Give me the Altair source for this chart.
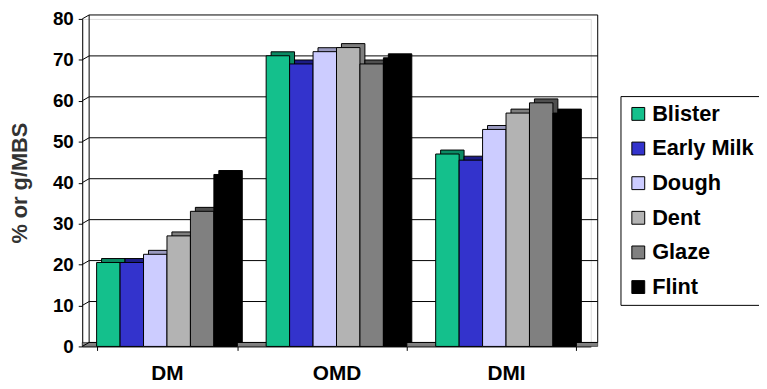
import altair as alt
import pandas as pd

categories = ["DM", "OMD", "DMI"]
stages = ["Blister", "Early Milk", "Dough", "Dent", "Glaze", "Flint"]
blister = [20.5, 71, 47]
early_milk = [20.5, 69, 45.5]
dough = [22.5, 72, 53]
dent = [27, 73, 57]
glaze = [33, 69, 59.5]
flint = [42, 70.5, 57]
y_ticks = [0, 10, 20, 30, 40, 50, 60, 70, 80]

face_colors = ["#14C08C", "#3333CC", "#CCCCFF", "#B3B3B3", "#808080", "#000000"]
cap_colors = ["#0B8A63", "#1C1C85", "#9A9AC0", "#7E7E7E", "#4F4F4F", "#000000"]

series = [blister, early_milk, dough, dent, glaze, flint]
rows = []
for s, vals, cap in zip(stages, series, cap_colors):
    for c, v in zip(categories, vals):
        rows.append({"cat": c, "stage": s, "value": v, "cap": cap})
df = pd.DataFrame(rows)
grid_df = pd.DataFrame({"value": y_ticks})
one = pd.DataFrame({"a": [0]})

W, H = 514, 331
DX, DY = 7, 4   # wall depth
BX, BY = 5, 4   # bar depth
FONT = "Liberation Sans"

y_scale = alt.Scale(domain=[0, 80], nice=False, zero=True)
y_axis = alt.Axis(values=y_ticks, grid=False, labelFont=FONT, labelFontSize=19,
                  labelFontWeight="bold", labelColor="black", tickColor="black",
                  tickSize=4, labelPadding=5, domainColor="black",
                  titleFont=FONT, titleFontSize=22, titleFontWeight="bold",
                  titleColor="#333333", titleX=-63, titleY=H / 2, titleAngle=270,
                  titleAlign="center", titleBaseline="middle")
y_enc = alt.Y("value:Q", scale=y_scale, title="% or g/MBS", axis=y_axis)

x_axis = alt.Axis(labelAngle=0, labelFont=FONT, labelFontSize=21, labelFontWeight="bold",
                  labelColor="black", tickBand="extent", tickSize=4, tickColor="black",
                  domainColor="black", labelPadding=12, title=None)
x_enc = alt.X("cat:N", sort=categories,
              scale=alt.Scale(paddingInner=0.17, paddingOuter=0.085), axis=x_axis)

floor = alt.Chart(one).mark_rect(fill="#808080", stroke="black", strokeWidth=0.5).encode(
    x=alt.value(0), x2=alt.value(W + DX), y=alt.value(H - DY), y2=alt.value(H))

grid = alt.Chart(grid_df).mark_rule(color="black", strokeWidth=1, yOffset=-DY).encode(
    y=y_enc, x=alt.value(DX), x2=alt.value(W + DX))

side = alt.Chart(grid_df).mark_rule(color="black", strokeWidth=1, y2Offset=-DY).encode(
    y=y_enc, y2=alt.Y2("value:Q"),
    x=alt.value(0), x2=alt.value(DX))

wall_l = alt.Chart(one).mark_rule(color="black", strokeWidth=1).encode(
    x=alt.value(DX), y=alt.value(-DY), y2=alt.value(H - DY))
wall_r = alt.Chart(one).mark_rule(color="black", strokeWidth=1).encode(
    x=alt.value(W + DX), y=alt.value(-DY), y2=alt.value(H - DY))

shadow = alt.Chart(df).mark_bar(stroke="black", strokeWidth=1, yOffset=-BY, y2Offset=-BY).encode(
    x=x_enc,
    xOffset=alt.XOffset("stage:N", sort=stages,
                        scale=alt.Scale(paddingInner=0, paddingOuter=0,
                                        range=[BX, {"expr": f"bandwidth('x') + {BX}"}])),
    y=y_enc,
    fill=alt.Fill("cap:N", scale=None),
)

bars = alt.Chart(df).mark_bar(stroke="black", strokeWidth=1).encode(
    x=x_enc,
    xOffset=alt.XOffset("stage:N", sort=stages, scale=alt.Scale(paddingInner=0, paddingOuter=0)),
    y=y_enc,
    color=alt.Color("stage:N", sort=stages,
                    scale=alt.Scale(domain=stages, range=face_colors),
                    legend=alt.Legend(title=None, orient="none", legendX=544, legendY=78,
                                      direction="vertical", symbolType="square",
                                      symbolSize=169, symbolStrokeColor="black",
                                      symbolStrokeWidth=1, symbolOpacity=1,
                                      labelFont=FONT, labelFontSize=22,
                                      labelFontWeight="bold", labelColor="black",
                                      labelOffset=3, rowPadding=13, padding=7,
                                      strokeColor="black", fillColor="white",
                                      labelLimit=300)),
)

chart = alt.layer(floor, grid, side, wall_l, wall_r, shadow, bars).resolve_scale(
    xOffset="independent"
).properties(
    width=W, height=H,
    autosize=alt.AutoSizeParams(type="none"),
    padding={"left": 75, "top": 9, "right": 170, "bottom": 41},
).configure_view(strokeWidth=0).configure(background="white")

chart.save("out.html", embed_options={"renderer": "svg", "actions": False})
